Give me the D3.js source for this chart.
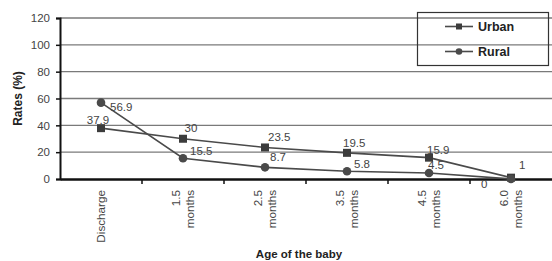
<!DOCTYPE html>
<html><head><meta charset="utf-8">
<script src="https://cdn.jsdelivr.net/npm/d3@7/dist/d3.min.js"></script>
<style>body{margin:0;background:#fff}svg{display:block}text{font-family:"Liberation Sans",Arial,sans-serif}</style>
</head><body>
<script>
const categories = [["Discharge"], ["1.5","months"], ["2.5","months"], ["3.5","months"], ["4.5","months"], ["6.0","months"]];
const urban = [37.9, 30, 23.5, 19.5, 15.9, 1];
const rural = [56.9, 15.5, 8.7, 5.8, 4.5, 0];
const yTicks = [0, 20, 40, 60, 80, 100, 120];
const seriesNames = ["Urban", "Rural"];

// label placement (layout only)
const urbanLabelPos = [[-3,-4,"middle"],[8,-7,"middle"],[3,-6,"start"],[-4,-6,"start"],[-2,-4,"start"],[8,-9,"start"]];
const ruralLabelPos = [[9,8,"start"],[7,-3,"start"],[5,-6,"start"],[7,-3.5,"start"],[-1,-4,"start"],[-30,9,"start"]];

const W = 552, H = 261;
const m = {left: 60, right: 0, top: 18, bottom: 82};
const svg = d3.select("body").append("svg").attr("width", W).attr("height", H);

const x = d3.scaleBand().domain(d3.range(categories.length)).range([m.left, W - m.right]).padding(0);
const y = d3.scaleLinear().domain([0, 120]).range([H - m.bottom, m.top]);

// gridlines
svg.append("g").selectAll("line").data(yTicks.filter(d => d > 0)).join("line")
  .attr("x1", m.left).attr("x2", W).attr("y1", d => y(d)).attr("y2", d => y(d))
  .attr("stroke", "#7a7a7a").attr("stroke-width", 1.3);

// y axis
const ya = svg.append("g").attr("transform", `translate(${m.left},0)`)
  .call(d3.axisLeft(y).tickValues(yTicks).tickSize(4).tickPadding(6));
ya.select(".domain").attr("stroke", "#111").attr("stroke-width", 2);
ya.selectAll(".tick line").attr("stroke", "#111").attr("stroke-width", 1.5);
ya.selectAll(".tick text").attr("font-size", 11.5).attr("fill", "#444").attr("font-family", "Liberation Sans, Arial, sans-serif");

// x axis
const xa = svg.append("g").attr("transform", `translate(0,${y(0)})`)
  .call(d3.axisBottom(x).tickSize(0).tickFormat(""));
xa.select(".domain").attr("stroke", "#111").attr("stroke-width", 2.5);
svg.append("g").selectAll("line").data(d3.range(1, categories.length)).join("line")
  .attr("x1", i => x(i)).attr("x2", i => x(i)).attr("y1", y(0)).attr("y2", y(0) + 5)
  .attr("stroke", "#111").attr("stroke-width", 1.5);

// x tick labels rotated
const xl = svg.append("g").selectAll("text").data(categories).join("text")
  .attr("transform", (d, i) => `translate(${x(i) + x.bandwidth() / 2},${y(0) + 11}) rotate(-90)`)
  .attr("text-anchor", "end").attr("font-size", 11.7).attr("fill", "#444");
xl.each(function(lines) {
  const t = d3.select(this);
  const n = lines.length;
  lines.forEach((s, k) => {
    t.append("tspan").attr("x", 0).attr("y", (k - (n - 1) / 2) * 14.5 + 4).text(s);
  });
});

// lines
const line = d3.line().x((d, i) => x(i) + x.bandwidth() / 2).y(d => y(d));
const col = "#4a4a4a";
svg.append("path").datum(urban).attr("d", line).attr("fill", "none").attr("stroke", col).attr("stroke-width", 1.6);
svg.append("path").datum(rural).attr("d", line).attr("fill", "none").attr("stroke", col).attr("stroke-width", 1.6);

svg.append("g").selectAll("rect").data(urban).join("rect")
  .attr("x", (d, i) => x(i) + x.bandwidth() / 2 - 4).attr("y", d => y(d) - 4)
  .attr("width", 8).attr("height", 8).attr("fill", "#3c3c3c");
svg.append("g").selectAll("circle").data(rural).join("circle")
  .attr("cx", (d, i) => x(i) + x.bandwidth() / 2).attr("cy", d => y(d)).attr("r", 4.3).attr("fill", "#4a4a4a");

// data labels
function labels(data, pos) {
  svg.append("g").selectAll("text").data(data).join("text")
    .attr("x", (d, i) => x(i) + x.bandwidth() / 2 + pos[i][0])
    .attr("y", (d, i) => y(d) + pos[i][1])
    .attr("text-anchor", (d, i) => pos[i][2])
    .attr("font-size", 11.5).attr("fill", "#444").text(d => d);
}
labels(urban, urbanLabelPos);
labels(rural, ruralLabelPos);

// axis titles
svg.append("text").attr("transform", `translate(22,${(m.top + y(0)) / 2}) rotate(-90)`)
  .attr("text-anchor", "middle").attr("font-size", 12).attr("font-weight", "bold").attr("fill", "#222").text("Rates (%)");
svg.append("text").attr("x", 299).attr("y", 258).attr("text-anchor", "middle")
  .attr("font-size", 11.5).attr("font-weight", "bold").attr("fill", "#222").text("Age of the baby");

// legend
const lg = svg.append("g");
lg.append("rect").attr("x", 417.5).attr("y", 12.5).attr("width", 131).attr("height", 53)
  .attr("fill", "none").attr("stroke", "#333").attr("stroke-width", 1.2);
seriesNames.forEach((name, k) => {
  const cy = 26.5 + k * 25;
  lg.append("line").attr("x1", 445).attr("x2", 473).attr("y1", cy).attr("y2", cy).attr("stroke", col).attr("stroke-width", 1.6);
  if (k === 0) lg.append("rect").attr("x", 456).attr("y", cy - 3).attr("width", 6).attr("height", 6).attr("fill", "#3c3c3c");
  else lg.append("circle").attr("cx", 459).attr("cy", cy).attr("r", 3.3).attr("fill", "#4a4a4a");
  lg.append("text").attr("x", 478).attr("y", cy + 4.5).attr("font-size", 12.5).attr("font-weight", "bold").attr("fill", "#222").text(name);
});
</script>
</body></html>
